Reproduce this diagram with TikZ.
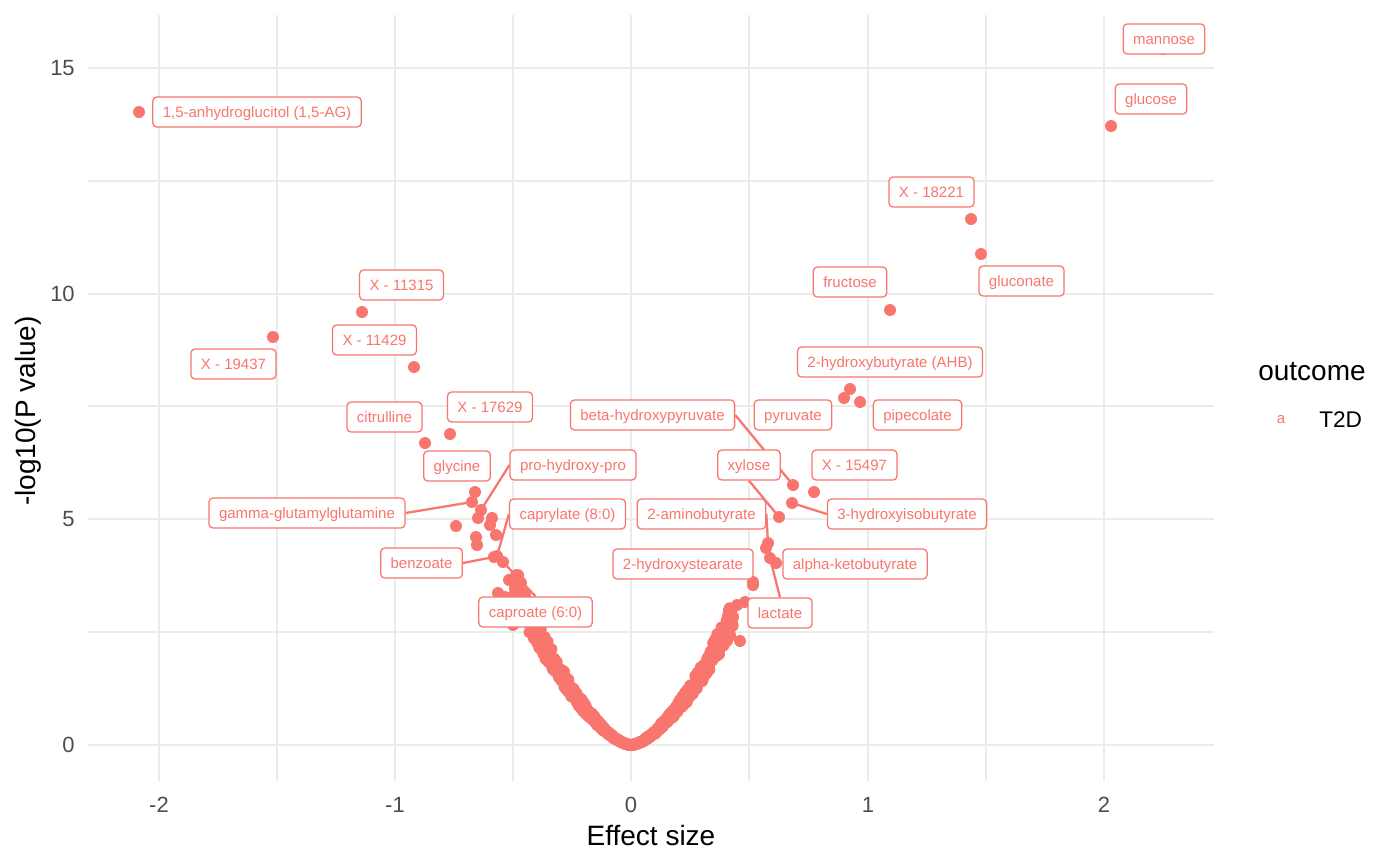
\documentclass[tikz,border=0pt]{standalone}
\usepackage{fontspec}
\setmainfont{Liberation Sans}
\definecolor{ggred}{HTML}{F8766D}
\definecolor{gggrid}{HTML}{EBEBEB}
\definecolor{ggtick}{HTML}{4D4D4D}
\pgfdeclarelayer{back}
\pgfdeclarelayer{seg}
\pgfsetlayers{back,seg,main}

\begin{document}
\begin{tikzpicture}[x=0.75pt,y=0.75pt,yscale=-1,xscale=1,
  major/.style={gggrid,line width=1.65pt},
  minor/.style={gggrid,line width=0.85pt},
  lbl/.style={draw=ggred,line width=0.95pt,fill=white,text=ggred,rounded corners=3pt,
    font=\fontsize{11.25}{13}\selectfont,inner xsep=7.5pt,inner ysep=5pt,
    text height=10.5pt,text depth=2pt},
  leader/.style={ggred,line width=1.7pt},
  tick/.style={text=ggtick,font=\fontsize{16.5}{19}\selectfont,inner sep=0pt},
  ttl/.style={font=\fontsize{21}{25}\selectfont,inner sep=0pt}]
  \useasboundingbox (0,0) rectangle (1400,865);

  \begin{pgfonlayer}{back}
    \foreach \gx in {277,513,749,986} \draw[minor] (\gx,15) -- (\gx,781);
    \foreach \gy in {632,406,181} \draw[minor] (88,\gy) -- (1214,\gy);
    \foreach \gx in {159,395,631,868,1104} \draw[major] (\gx,15) -- (\gx,781);
    \foreach \gy in {745,519,294,68} \draw[major] (88,\gy) -- (1214,\gy);

    \pgfmathsetseed{12}
    \foreach \i in {1,...,240} {
      \pgfmathsetmacro\t{\i/240*0.49}
      \pgfmathsetmacro\h{11*pow(\t,1.6)*(1+0.12*rand)}
      \fill[ggred] ({631-236.4*\t},{745-45.13*\h}) circle [radius=6];
      \pgfmathsetmacro\t{\i/240*0.43}
      \pgfmathsetmacro\h{11*pow(\t,1.6)*(1+0.12*rand)}
      \fill[ggred] ({631+236.4*\t},{745-45.13*\h}) circle [radius=6];
    }

    \foreach \n/\px/\py in {pAG/139/112, pMAN/1163/49, pGLC/1111/126, p18221/971/219,
        pGLN/981/254, pFRU/890/310, p11315/362/312, p19437/273/337, p11429/414/367,
        pAHB/850/389, pAHBb/844/398, pPIP/860/402, pCIT/425/443, p17629/450/434,
        pGLY/475/492, pGG/472/502, pPHP/481/510, pL1/478/518, pL2/492/518,
        pL3/490/525, pL4/496/535, pL5/456/526, pL6/476/537, pL7/477/545,
        pCAP8/497/556, pBNZ/494/557, pCAP6/503/562, pL8/509/580, pL9/515/588,
        pL10/498/593, pL11/505/597, pL12/513/625, pL13/522/612,
        pBHP/793/485, p15497/814/492, pHIB/792/503, pXYL/779/517, pAMB/768/543,
        pR1/766/548, pLAC/770/558, pAKB/776/563, pHST/753/582, pR2/753/585,
        pR3/745/602, pR4/737/605, pR5/733/617, pR6/727/627, pR7/725/633, pR8/740/641} {
      \coordinate (\n) at (\px,\py);
      \fill[ggred] (\n) circle [radius=6];
    }
  \end{pgfonlayer}

  \node[lbl] (lAG) at (257,112) {1,5-anhydroglucitol (1,5-AG)};
  \node[lbl] (lMAN) at (1164,39) {mannose};
  \node[lbl] (lGLC) at (1151,99) {glucose};
  \node[lbl] (l18221) at (931.5,192) {X - 18221};
  \node[lbl] (lGLN) at (1021.5,281) {gluconate};
  \node[lbl] (lFRU) at (850,282) {fructose};
  \node[lbl] (l11315) at (401.5,285) {X - 11315};
  \node[lbl] (l11429) at (374.5,340) {X - 11429};
  \node[lbl] (l19437) at (233.5,364) {X - 19437};
  \node[lbl] (lAHB) at (890,362) {2-hydroxybutyrate (AHB)};
  \node[lbl] (lCIT) at (384.5,417) {citrulline};
  \node[lbl] (l17629) at (490,407) {X - 17629};
  \node[lbl] (lBHP) at (652.5,415) {beta-hydroxypyruvate};
  \node[lbl] (lPYR) at (793,415) {pyruvate};
  \node[lbl] (lPIP) at (917.5,415) {pipecolate};
  \node[lbl] (lGLY) at (457,466) {glycine};
  \node[lbl] (lPHP) at (573,465) {pro-hydroxy-pro};
  \node[lbl] (lXYL) at (749,465) {xylose};
  \node[lbl] (l15497) at (854.5,465) {X - 15497};
  \node[lbl] (lGG) at (307,513) {gamma-glutamylglutamine};
  \node[lbl] (lCAP8) at (567.5,514) {caprylate (8:0)};
  \node[lbl] (lAMB) at (701.5,514) {2-aminobutyrate};
  \node[lbl] (lHIB) at (907,514) {3-hydroxyisobutyrate};
  \node[lbl] (lBNZ) at (421.5,563) {benzoate};
  \node[lbl] (lHST) at (683,564) {2-hydroxystearate};
  \node[lbl] (lAKB) at (855,564) {alpha-ketobutyrate};
  \node[lbl] (lCAP6) at (535.5,612) {caproate (6:0)};
  \node[lbl] (lLAC) at (780,613) {lactate};

  \begin{pgfonlayer}{seg}
    \draw[leader] (lGG.east) -- (pGG);
    \draw[leader] (lPHP.west) -- (pPHP);
    \draw[leader] (lCAP8.west) -- (pCAP8);
    \draw[leader] (lBNZ.east) -- (pBNZ);
    \draw[leader] (lCAP6.north) -- (pCAP6);
    \draw[leader] (lBHP.east) -- (pBHP);
    \draw[leader] (lXYL.south) -- (pXYL);
    \draw[leader] (lHIB.west) -- (pHIB);
    \draw[leader] (lAMB.east) -- (pAMB);
    \draw[leader] (lLAC.north) -- (pLAC);
  \end{pgfonlayer}

  \foreach \v/\gy in {0/745,5/519,10/294,15/68}
    \node[tick,anchor=east] (yt\v) at (75,\gy) {\v};
  \foreach \v/\gx in {-2/159,-1/395,0/631,1/868,2/1104}
    \node[tick] (xt\v) at (\gx,805) {\v};

  \node[ttl,anchor=base] (xttl) at (651,845) {Effect size};
  \node[ttl,anchor=base,rotate=90] (yttl) at (36,411) {-log10(P value)};

  \node[ttl,anchor=base west] (legttl) at (1258,380) {outcome};
  \node[text=ggred,font=\fontsize{11.25}{13}\selectfont,inner sep=0pt,anchor=base] (legkey) at (1281,423) {a};
  \node[tick,text=black,font=\fontsize{17}{20}\selectfont,anchor=base west] (legtxt) at (1319,427) {T2D};
\end{tikzpicture}
\end{document}
